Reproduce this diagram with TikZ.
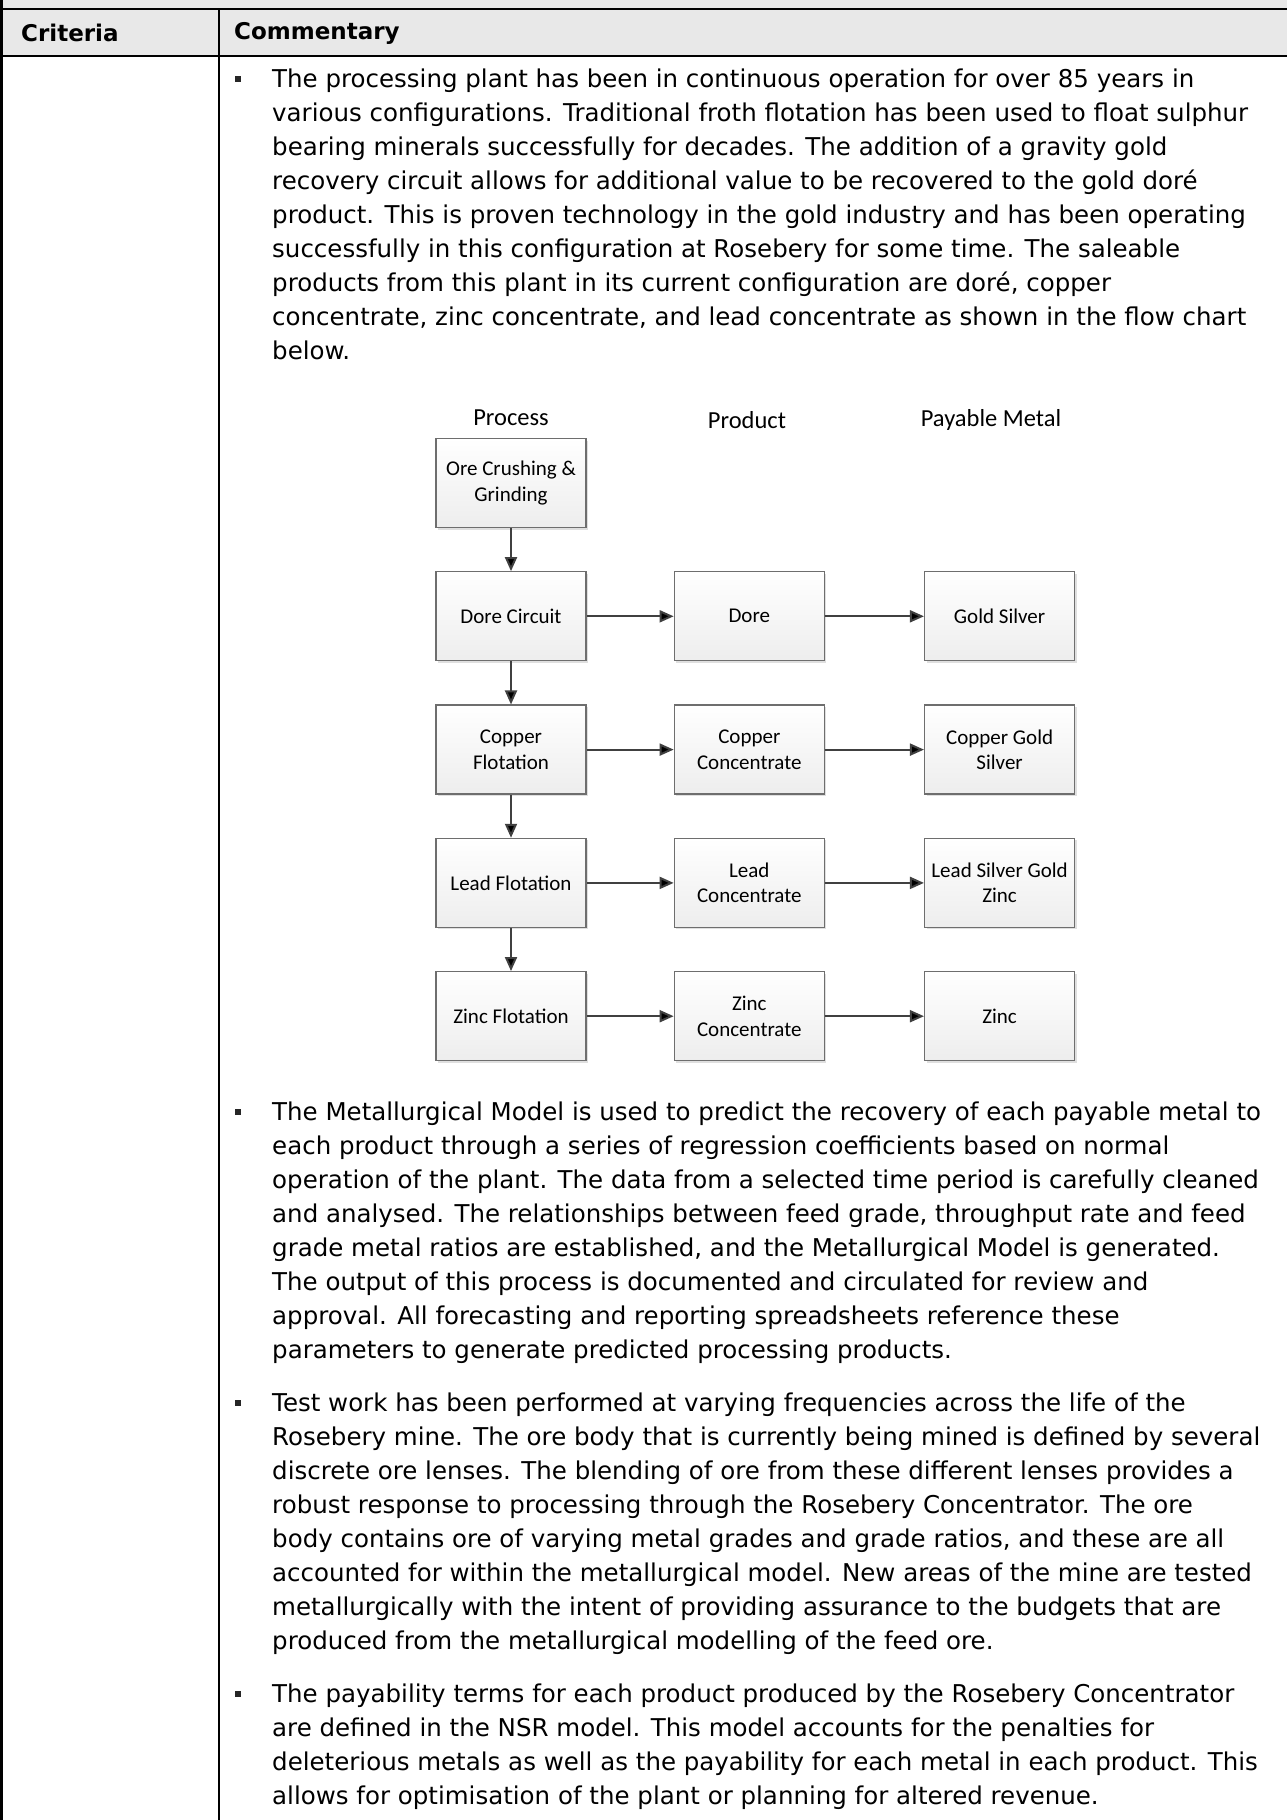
\documentclass[tikz,border=0pt]{standalone}
\usepackage{fontspec}
\setmainfont{DejaVu Sans}
\newfontfamily\flowfont{Carlito}
\usetikzlibrary{positioning,arrows.meta,shadows}

\definecolor{hdrgray}{HTML}{E8E8E8}
\definecolor{boxline}{HTML}{6E6E6E}
\definecolor{arrowgray}{HTML}{404040}

\tikzstyle{flowbox} =
[
	draw=boxline,rectangle,line width=1.3pt,inner sep=0pt,
	minimum width=150pt, minimum height=89pt, align=center,
	top color=white, bottom color=gray!14,
	drop shadow={shadow xshift=2pt,shadow yshift=-2pt,opacity=0.25},
	font=\flowfont\fontsize{21}{25.5}\selectfont
]
\tikzstyle{colhead} =
[
	inner sep=0pt, font=\flowfont\fontsize{24.5}{29}\selectfont
]
\tikzstyle{para} =
[
	anchor=north west, align=left, inner sep=0pt,
	font=\fontsize{24.5}{34}\selectfont
]
\tikzstyle{bulletsq} =
[
	fill=black!85, minimum size=6.5pt, inner sep=0pt
]
\tikzstyle{flowarrow} =
[
	->, draw=arrowgray, line width=2pt
]

\begin{document}
\begin{tikzpicture}[x=1pt,y=-1pt,>={Triangle[length=14pt,width=12pt]}]
\useasboundingbox (0,0) rectangle (1287,1820);

% table frame
\fill[hdrgray] (0,0) rectangle (1287,56);
\draw[line width=2.5pt] (0,9) -- (1287,9);
\draw[line width=2.5pt] (0,56) -- (1287,56);
\draw[line width=2.5pt] (1.5,0) -- (1.5,1820);
\draw[line width=2.5pt] (219,9) -- (219,1820);

\node[anchor=west, inner sep=0pt, font=\bfseries\fontsize{23}{28}\selectfont] (crit) at (21,33) {Criteria};
\node[anchor=west, inner sep=0pt, font=\bfseries\fontsize{23}{28}\selectfont] (comm) at (234,33) {Commentary};

% first bullet
\node[bulletsq] (b1) at (238,79) {};
\node[para] (p1) at (272,68.4) {The processing plant has been in continuous operation for over 85 years in\\
various configurations. Traditional froth flotation has been used to float sulphur\\
bearing minerals successfully for decades. The addition of a gravity gold\\
recovery circuit allows for additional value to be recovered to the gold doré\\
product. This is proven technology in the gold industry and has been operating\\
successfully in this configuration at Rosebery for some time. The saleable\\
products from this plant in its current configuration are doré, copper\\
concentrate, zinc concentrate, and lead concentrate as shown in the flow chart\\
below.};

% flow chart
\node[colhead] (hproc) at (511,418) {Process};
\node[colhead] (hprod) at (747,420) {Product};
\node[colhead] (hpay) at (991,420) {Payable Metal};

\node[flowbox] (ore) at (511,483) {Ore Crushing \&\\Grinding};
\node[flowbox] (dorec) [below=43pt of ore] {Dore Circuit};
\node[flowbox] (cuflot) [below=43pt of dorec] {Copper\\Flotation};
\node[flowbox] (pbflot) [below=43pt of cuflot] {Lead Flotation};
\node[flowbox] (znflot) [below=43pt of pbflot] {Zinc Flotation};

\node[flowbox] (dore) [right=87pt of dorec] {Dore};
\node[flowbox] (cucon) [right=87pt of cuflot] {Copper\\Concentrate};
\node[flowbox] (pbcon) [right=87pt of pbflot] {Lead\\Concentrate};
\node[flowbox] (zncon) [right=87pt of znflot] {Zinc\\Concentrate};

\node[flowbox] (aumet) [right=99pt of dore] {Gold Silver};
\node[flowbox] (cumet) [right=99pt of cucon] {Copper Gold\\Silver};
\node[flowbox] (pbmet) [right=99pt of pbcon] {Lead Silver Gold\\Zinc};
\node[flowbox] (znmet) [right=99pt of zncon] {Zinc};

\path[flowarrow]
	(ore) edge (dorec)
	(dorec) edge (cuflot)
	(cuflot) edge (pbflot)
	(pbflot) edge (znflot);

\path[flowarrow]
	(dorec) edge (dore)
	(cuflot) edge (cucon)
	(pbflot) edge (pbcon)
	(znflot) edge (zncon)
	(dore) edge (aumet)
	(cucon) edge (cumet)
	(pbcon) edge (pbmet)
	(zncon) edge (znmet);

% remaining bullets
\node[bulletsq] (b2) at (238,1112) {};
\node[para] (p2) at (272,1101.4) {The Metallurgical Model is used to predict the recovery of each payable metal to\\
each product through a series of regression coefficients based on normal\\
operation of the plant. The data from a selected time period is carefully cleaned\\
and analysed. The relationships between feed grade, throughput rate and feed\\
grade metal ratios are established, and the Metallurgical Model is generated.\\
The output of this process is documented and circulated for review and\\
approval. All forecasting and reporting spreadsheets reference these\\
parameters to generate predicted processing products.};

\node[bulletsq] (b3) at (238,1403) {};
\node[para] (p3) at (272,1392.4) {Test work has been performed at varying frequencies across the life of the\\
Rosebery mine. The ore body that is currently being mined is defined by several\\
discrete ore lenses. The blending of ore from these different lenses provides a\\
robust response to processing through the Rosebery Concentrator. The ore\\
body contains ore of varying metal grades and grade ratios, and these are all\\
accounted for within the metallurgical model. New areas of the mine are tested\\
metallurgically with the intent of providing assurance to the budgets that are\\
produced from the metallurgical modelling of the feed ore.};

\node[bulletsq] (b4) at (238,1694) {};
\node[para] (p4) at (272,1683.4) {The payability terms for each product produced by the Rosebery Concentrator\\
are defined in the NSR model. This model accounts for the penalties for\\
deleterious metals as well as the payability for each metal in each product. This\\
allows for optimisation of the plant or planning for altered revenue.};

\end{tikzpicture}
\end{document}
